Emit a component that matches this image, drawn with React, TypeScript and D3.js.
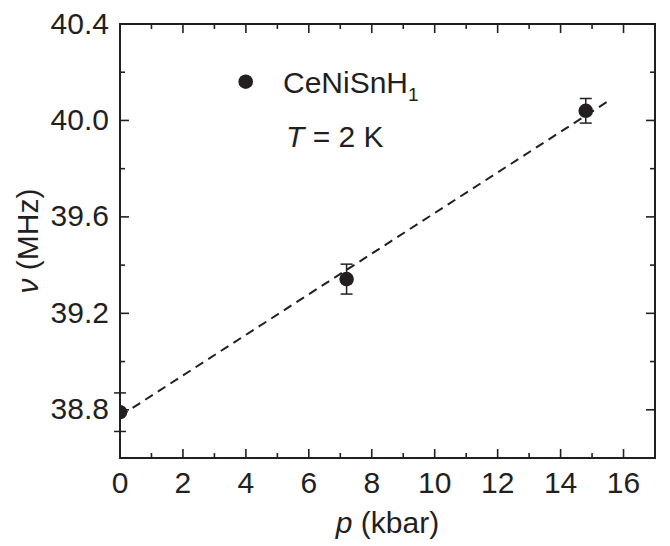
import React from "react";
import * as d3 from "d3";

// Measured resonance frequency vs pressure
const pressure = [0, 7.2, 14.8];
const frequency = [38.79, 39.342, 40.04];
const freqError = [0.08, 0.062, 0.051];

// Linear fit: nu = fitIntercept + fitSlope * p
const fitIntercept = 38.774;
const fitSlope = 0.0842;
const fitRange = [0, 15.5];

const xMajorTicks = [0, 2, 4, 6, 8, 10, 12, 14, 16];
const xMinorTicks = [1, 3, 5, 7, 9, 11, 13, 15, 17];
const yMajorTicks = [38.8, 39.2, 39.6, 40.0, 40.4];
const yMinorTicks = [38.6, 39.0, 39.4, 39.8, 40.2];

const W = 670;
const H = 546;
const left = 120;
const right = 655;
const top = 24;
const bottom = 458;
const ink = "#231f20";
const font = "Arial, 'Liberation Sans', Helvetica, sans-serif";
const fs = 30;

export default function App() {
  const x = d3.scaleLinear().domain([0, 17]).range([left, right]);
  const y = d3.scaleLinear().domain([38.6, 40.4]).range([bottom, top]);
  const fitLine = d3
    .line<number>()
    .x((p) => x(p))
    .y((p) => y(fitIntercept + fitSlope * p));

  const majorLen = 9;
  const minorLen = 5;

  return (
    <svg
      width={W}
      height={H}
      style={{ position: "absolute", left: 0, top: 0, background: "#fff" }}
      fontFamily={font}
    >
      <rect x={0} y={0} width={W} height={H} fill="#fff" />

      {/* fit line */}
      <path
        d={fitLine(fitRange) || ""}
        fill="none"
        stroke={ink}
        strokeWidth={2}
        strokeDasharray="9,6"
      />

      {/* error bars */}
      {pressure.map((p, i) => {
        const cx = x(p);
        const y1 = y(frequency[i] + freqError[i]);
        const y2 = y(frequency[i] - freqError[i]);
        return (
          <g key={"e" + i} stroke={ink} strokeWidth={1.5}>
            <line x1={cx} x2={cx} y1={y1} y2={y2} />
            <line x1={cx - 6} x2={cx + 6} y1={y1} y2={y1} />
            <line x1={cx - 6} x2={cx + 6} y1={y2} y2={y2} />
          </g>
        );
      })}

      {/* data points, clipped at the frame */}
      <defs>
        <clipPath id="frame">
          <rect x={left} y={top} width={right - left} height={bottom - top} />
        </clipPath>
      </defs>
      <g clipPath="url(#frame)">
        {pressure.map((p, i) => (
          <circle key={"c" + i} cx={x(p)} cy={y(frequency[i])} r={7.3} fill={ink} />
        ))}
      </g>

      {/* frame */}
      <rect
        x={left}
        y={top}
        width={right - left}
        height={bottom - top}
        fill="none"
        stroke={ink}
        strokeWidth={2}
      />

      {/* ticks on all four sides, pointing inward */}
      <g stroke={ink} strokeWidth={1.6}>
        {xMajorTicks.map((t) => (
          <g key={"xm" + t}>
            <line x1={x(t)} x2={x(t)} y1={bottom} y2={bottom - majorLen} />
            <line x1={x(t)} x2={x(t)} y1={top} y2={top + majorLen} />
          </g>
        ))}
        {xMinorTicks.map((t) => (
          <g key={"xn" + t}>
            <line x1={x(t)} x2={x(t)} y1={bottom} y2={bottom - minorLen} />
            <line x1={x(t)} x2={x(t)} y1={top} y2={top + minorLen} />
          </g>
        ))}
        {yMajorTicks.map((t) => (
          <g key={"ym" + t}>
            <line x1={left} x2={left + majorLen} y1={y(t)} y2={y(t)} />
            <line x1={right} x2={right - majorLen} y1={y(t)} y2={y(t)} />
          </g>
        ))}
        {yMinorTicks.map((t) => (
          <g key={"yn" + t}>
            <line x1={left} x2={left + minorLen} y1={y(t)} y2={y(t)} />
            <line x1={right} x2={right - minorLen} y1={y(t)} y2={y(t)} />
          </g>
        ))}
      </g>

      {/* tick labels */}
      <g fill={ink} fontSize={fs}>
        {xMajorTicks.map((t) => (
          <text key={"xl" + t} x={x(t)} y={493} textAnchor="middle">
            {t}
          </text>
        ))}
        {yMajorTicks.map((t) => (
          <text
            key={"yl" + t}
            x={left - 11}
            y={y(t) - 1}
            textAnchor="end"
            dominantBaseline="central"
          >
            {t.toFixed(1)}
          </text>
        ))}
      </g>

      {/* axis titles */}
      <text x={(left + right) / 2} y={533} textAnchor="middle" fontSize={fs} fill={ink}>
        <tspan fontStyle="italic">p</tspan> (kbar)
      </text>
      <text
        transform={`translate(38, ${(top + bottom) / 2}) rotate(-90)`}
        textAnchor="middle"
        fontSize={fs}
        fill={ink}
      >
        <tspan fontStyle="italic">ν</tspan> (MHz)
      </text>

      {/* legend */}
      <circle cx={245.7} cy={81.7} r={7.3} fill={ink} />
      <text x={283} y={93} fontSize={fs} fill={ink}>
        CeNiSnH<tspan fontSize={19} dy={8}>1</tspan>
      </text>
      <text x={286} y={147} fontSize={fs} fill={ink}>
        <tspan fontStyle="italic">T</tspan> = 2 K
      </text>
    </svg>
  );
}
